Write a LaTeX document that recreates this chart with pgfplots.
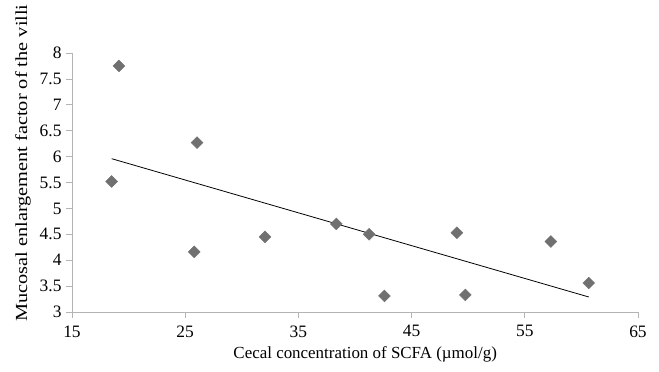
\documentclass[border=0pt]{standalone}
\usepackage{pgfplots}
\pgfplotsset{compat=1.18}
\usepackage{fontspec}
\setmainfont{Liberation Serif}
\definecolor{axgray}{HTML}{B4B4B4}
\definecolor{mk}{HTML}{707070}
\begin{document}
\begin{tikzpicture}
\useasboundingbox (-72bp,-60bp) rectangle (587bp,312bp);
\begin{axis}[
  at={(0,0)}, anchor=south west,
  width=566bp, height=259bp, scale only axis,
  xmin=15, xmax=65, ymin=3, ymax=8,
  xtick={15,25,...,65},
  ytick={3,3.5,...,8},
  axis lines*=left,
  axis line style={axgray, line width=0.8pt, -},
  tick align=outside,
  major tick length=6bp,
  tick style={axgray, line width=0.8pt},
  font=\fontsize{17}{20}\selectfont,
  ticklabel style={font=\fontsize{17.5}{20}\selectfont},
  /pgf/number format/assume math mode=true,
  /pgf/number format/fixed,
  /pgf/number format/precision=1,
  xticklabel style={yshift=-4bp},
  yticklabel style={xshift=-1bp},
  xlabel={Cecal concentration of SCFA (\textmu mol/g)},
  ylabel={\scalebox{1.2}[1]{Mucosal enlargement factor of the villi}},
  xlabel style={at={(axis description cs:0.518,-0.178)}, anchor=base},
  ylabel style={at={(axis description cs:-0.0866,0.575)}, anchor=center, rotate=0},
  clip=false,
]
\addplot[only marks, mark=square*, mark size=4.2bp, mark options={rotate=45, fill=mk, draw=mk}] coordinates {
(18.5,5.52) (19.15,7.75) (25.8,4.16) (26.05,6.27) (32.05,4.45) (38.35,4.70)
(41.25,4.50) (42.6,3.31) (49.0,4.53) (49.75,3.33) (57.3,4.36) (60.65,3.56)
};
\addplot[black, line width=0.8pt] coordinates {(18.5,5.96) (60.65,3.29)};
\end{axis}
\end{tikzpicture}
\end{document}
